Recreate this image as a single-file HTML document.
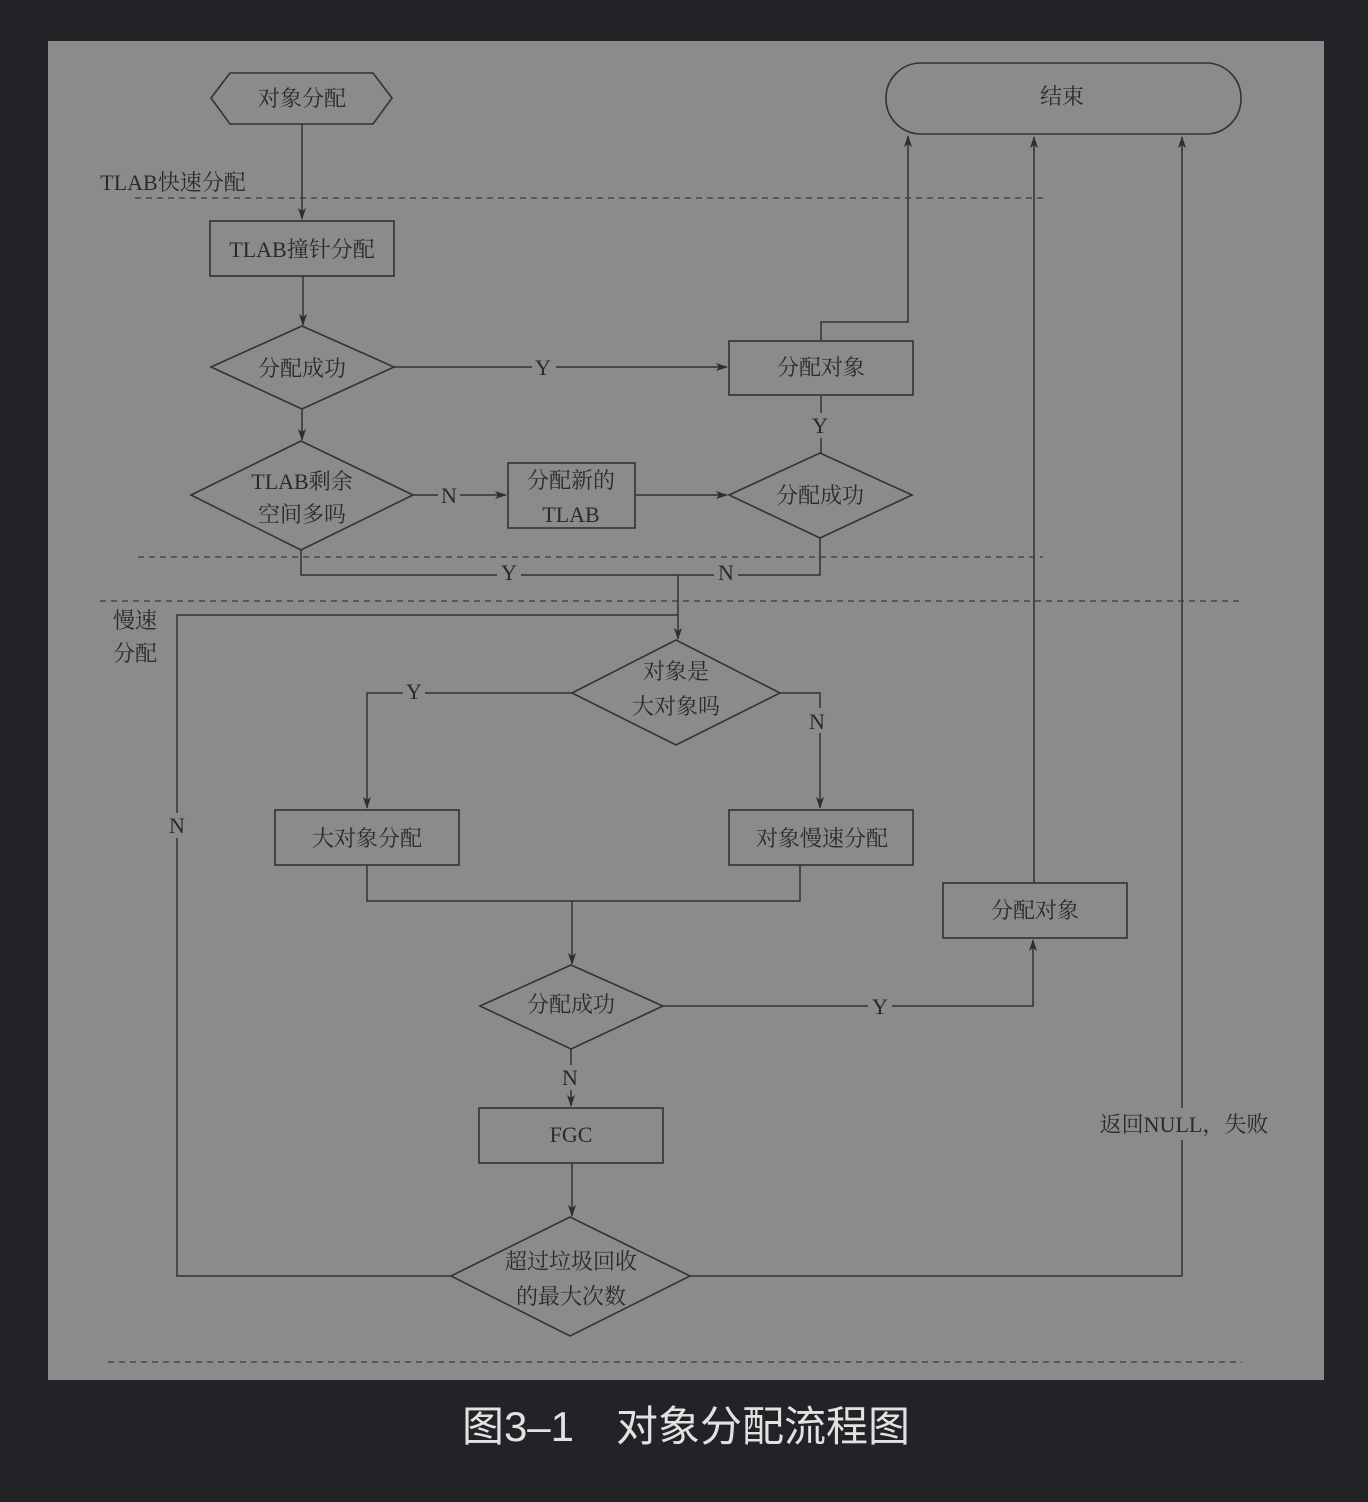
<!DOCTYPE html>
<html><head><meta charset="utf-8"><style>
html,body{margin:0;padding:0;background:#222326;}
svg{display:block}
</style></head><body>
<svg width="1368" height="1502" xmlns="http://www.w3.org/2000/svg">
<defs><marker id="a" markerWidth="12" markerHeight="8" refX="11" refY="4" orient="auto" markerUnits="userSpaceOnUse"><path d="M0,0 L12,4 L0,8 L3,4 z" fill="#2e2e2e"/></marker></defs>
<rect x="0" y="0" width="1368" height="1502" fill="#222326"/>
<rect x="48" y="41" width="1276" height="1339" fill="#8b8b8b"/>
<g fill="none" stroke="#333" stroke-width="1.6">
<polygon points="211,98 230,73 373,73 392,98 373,124 230,124"/>
<rect x="886" y="63" width="355" height="71" rx="35"/>
<rect x="210" y="221" width="184" height="55"/>
<polygon points="211,367 302,326 394,367 302,409"/>
<rect x="729" y="341" width="184" height="54"/>
<polygon points="191,495 301,441 413,495 301,550"/>
<rect x="508" y="463" width="127" height="65"/>
<polygon points="729,495 820,453 912,495 820,538"/>
<polygon points="572,693 676,640 780,693 676,745"/>
<rect x="275" y="810" width="184" height="55"/>
<rect x="729" y="810" width="184" height="55"/>
<rect x="943" y="883" width="184" height="55"/>
<polygon points="480,1006 571,965 663,1006 571,1049"/>
<rect x="479" y="1108" width="184" height="55"/>
<polygon points="451,1276 570,1217 690,1276 570,1336"/>
</g>
<g fill="none" stroke="#3a3a3a" stroke-width="1.3" stroke-dasharray="6,5">
<line x1="135" y1="198" x2="1043" y2="198"/>
<line x1="138" y1="557" x2="1043" y2="557"/>
<line x1="100" y1="601" x2="1240" y2="601"/>
<line x1="108" y1="1362" x2="1242" y2="1362"/>
</g>
<g fill="none" stroke="#333" stroke-width="1.5">
<line x1="302" y1="124" x2="302" y2="219" marker-end="url(#a)"/>
<line x1="303" y1="276" x2="303" y2="325" marker-end="url(#a)"/>
<polyline points="394,367 532,367"/><line x1="556" y1="367" x2="727" y2="367" marker-end="url(#a)"/>
<polyline points="821,341 821,322 908,322 908,136" marker-end="url(#a)"/>
<line x1="302" y1="409" x2="302" y2="440" marker-end="url(#a)"/>
<polyline points="413,495 438,495"/><line x1="460" y1="495" x2="506" y2="495" marker-end="url(#a)"/>
<line x1="635" y1="495" x2="727" y2="495" marker-end="url(#a)"/>
<line x1="821" y1="453" x2="821" y2="438"/><line x1="821" y1="413" x2="821" y2="396"/>
<polyline points="301,550 301,575 497,575"/><line x1="521" y1="575" x2="714" y2="575"/>
<polyline points="820,538 820,575 738,575"/>
<line x1="678" y1="575" x2="678" y2="639" marker-end="url(#a)"/>
<polyline points="451,1276 177,1276 177,838"/><polyline points="177,813 177,615 678,615"/>
<polyline points="572,693 425,693"/><polyline points="403,693 367,693 367,808" marker-end="url(#a)"/>
<polyline points="780,693 820,693 820,708"/><line x1="820" y1="733" x2="820" y2="808" marker-end="url(#a)"/>
<polyline points="367,865 367,901 800,901 800,865"/>
<line x1="572" y1="901" x2="572" y2="964" marker-end="url(#a)"/>
<polyline points="663,1006 868,1006"/><polyline points="892,1006 1033,1006 1033,940" marker-end="url(#a)"/>
<line x1="1034" y1="883" x2="1034" y2="137" marker-end="url(#a)"/>
<line x1="571" y1="1049" x2="571" y2="1065"/><line x1="571" y1="1090" x2="571" y2="1106" marker-end="url(#a)"/>
<line x1="572" y1="1163" x2="572" y2="1216" marker-end="url(#a)"/>
<polyline points="690,1276 1182,1276 1182,1140"/><line x1="1182" y1="1108" x2="1182" y2="137" marker-end="url(#a)"/>
</g>
<g font-family="'Liberation Serif','Noto Serif CJK SC',serif" font-size="22" fill="#2a2a2a" text-anchor="middle">
<text x="302" y="106">对象分配</text>
<text x="1062" y="104">结束</text>
<text x="302" y="257">TLAB撞针分配</text>
<text x="302" y="376">分配成功</text>
<text x="543" y="375">Y</text>
<text x="821" y="375">分配对象</text>
<text x="302" y="489">TLAB剩余</text>
<text x="302" y="522">空间多吗</text>
<text x="449" y="503">N</text>
<text x="571" y="488">分配新的</text>
<text x="571" y="522">TLAB</text>
<text x="820" y="503">分配成功</text>
<text x="820" y="433">Y</text>
<text x="509" y="580">Y</text>
<text x="726" y="580">N</text>
<text x="676" y="679">对象是</text>
<text x="676" y="714">大对象吗</text>
<text x="414" y="699">Y</text>
<text x="817" y="729">N</text>
<text x="177" y="833">N</text>
<text x="367" y="846">大对象分配</text>
<text x="822" y="846">对象慢速分配</text>
<text x="1035" y="918">分配对象</text>
<text x="571" y="1012">分配成功</text>
<text x="880" y="1014">Y</text>
<text x="570" y="1085">N</text>
<text x="571" y="1142">FGC</text>
<text x="571" y="1269">超过垃圾回收</text>
<text x="571" y="1304">的最大次数</text>
<text x="1184" y="1132">返回NULL，失败</text>
<text x="173" y="190">TLAB快速分配</text>
<text x="135" y="628">慢速</text>
<text x="135" y="661">分配</text>
</g>
<text x="686" y="1441" text-anchor="middle" font-family="'Liberation Sans','Noto Sans CJK SC',sans-serif" font-size="42" fill="#e2e2e2">图3–1　对象分配流程图</text>
</svg>
</body></html>
